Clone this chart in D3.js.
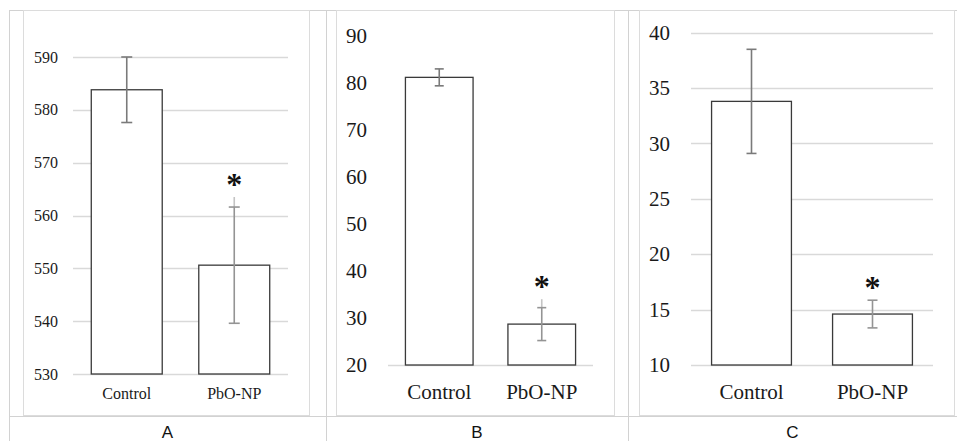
<!DOCTYPE html>
<html>
<head>
<meta charset="utf-8">
<script src="https://cdn.jsdelivr.net/npm/d3@7"></script>
<style>
  html, body { margin: 0; padding: 0; background: #fff; }
  svg { display: block; }
  .serif text, text.serif { font-family: "Liberation Serif", "Times New Roman", serif; }
</style>
</head>
<body>
<svg id="chart" width="957" height="441"></svg>
<script>
// values
var panelNames = ["A", "B", "C"];
var categories = ["Control", "PbO-NP"];

var meansA = [583.8, 550.6],
    errorsA = [6.2, 11.0],
    ticksA = [530, 540, 550, 560, 570, 580, 590];

var meansB = [81.2, 28.7],
    errorsB = [1.8, 3.5],
    ticksB = [20, 30, 40, 50, 60, 70, 80, 90];

var meansC = [33.8, 14.6],
    errorsC = [4.7, 1.25],
    ticksC = [10, 15, 20, 25, 30, 35, 40];

// faint whisker drawn above the cap (overlapping bar in the original)
var whiskerTopA = [null, 563.5],
    whiskerTopB = [null, 34.0],
    whiskerTopC = [null, null];

var significant = [false, true];

var svg = d3.select("#chart");

// table grid behind the three panels
var table = svg.append("g").attr("stroke", "#d2d2d2").attr("stroke-width", 1);
table.append("line").attr("x1", 9).attr("x2", 957).attr("y1", 10.5).attr("y2", 10.5);
table.append("line").attr("x1", 9).attr("x2", 957).attr("y1", 416.5).attr("y2", 416.5);
[9.5, 326.5, 628.5].forEach(function(x) {
    table.append("line").attr("x1", x).attr("x2", x).attr("y1", 10).attr("y2", 441);
});

var panels = [
    {name: "A", means: meansA, errors: errorsA, ticks: ticksA, whisker: whiskerTopA,
     frame: [23, 10, 309, 415], xr: [73, 288], yr: [374, 57], font: 16, grid: true, gap: 15, cap: 11, cell: [9, 326]},
    {name: "B", means: meansB, errors: errorsB, ticks: ticksB, whisker: whiskerTopB,
     frame: [336, 10, 614, 415], xr: [388, 593], yr: [365, 36], font: 21, grid: false, gap: 21, cap: 9, cell: [326, 628]},
    {name: "C", means: meansC, errors: errorsC, ticks: ticksC, whisker: whiskerTopC,
     frame: [639, 10, 954, 415], xr: [691, 933], yr: [365, 32.7], font: 21, grid: true, gap: 21, cap: 10, cell: [628, 957]}
];

panels.forEach(function(p, pi) {
    var g = svg.append("g");

    g.append("rect")
        .attr("x", p.frame[0] + 0.5)
        .attr("y", p.frame[1] + 0.5)
        .attr("width", p.frame[2] - p.frame[0])
        .attr("height", p.frame[3] - p.frame[1])
        .attr("fill", "#fff")
        .attr("stroke", "#dcdcdc");

    var y = d3.scaleLinear()
        .domain([p.ticks[0], p.ticks[p.ticks.length - 1]])
        .range(p.yr);

    var x = d3.scaleBand()
        .domain(categories)
        .range(p.xr)
        .paddingInner(0.34)
        .paddingOuter(0.17);

    // gridlines
    var gridTicks = p.grid ? p.ticks : [p.ticks[0]];
    g.selectAll(".grid")
        .data(gridTicks)
        .enter()
        .append("line")
        .attr("x1", p.xr[0])
        .attr("x2", p.xr[1])
        .attr("y1", function(d) { return Math.round(y(d)) + 0.5; })
        .attr("y2", function(d) { return Math.round(y(d)) + 0.5; })
        .attr("stroke", "#d9d9d9")
        .attr("stroke-width", 1.3);

    // y axis labels
    var yAxis = g.append("g")
        .attr("class", "serif")
        .attr("transform", "translate(" + p.xr[0] + ",0)")
        .call(d3.axisLeft(y).tickValues(p.ticks).tickSize(0).tickPadding(p.gap).tickFormat(d3.format("d")))
        .attr("font-family", null);
    yAxis.select(".domain").remove();
    yAxis.selectAll("text")
        .style("font-family", "'Liberation Serif', 'Times New Roman', serif")
        .style("font-size", p.font + "px")
        .attr("fill", "#1a1a1a");

    // bars
    g.selectAll(".bar")
        .data(p.means)
        .enter()
        .append("rect")
        .attr("x", function(d, i) { return x(categories[i]); })
        .attr("y", function(d) { return y(d); })
        .attr("width", x.bandwidth())
        .attr("height", function(d) { return y(p.ticks[0]) - y(d); })
        .attr("fill", "#fff")
        .attr("stroke", "#3a3a3a")
        .attr("stroke-width", 1.3);

    // faint whisker extension
    p.whisker.forEach(function(w, i) {
        if (w == null) return;
        var cx = x(categories[i]) + x.bandwidth() / 2;
        g.append("line")
            .attr("x1", cx).attr("x2", cx)
            .attr("y1", y(w)).attr("y2", y(p.means[i] + p.errors[i]))
            .attr("stroke", "#c4c4c4")
            .attr("stroke-width", 1.6);
    });

    // error bars
    p.means.forEach(function(m, i) {
        var cx = x(categories[i]) + x.bandwidth() / 2,
            lo = y(m - p.errors[i]),
            hi = y(m + p.errors[i]),
            eb = g.append("g").attr("stroke", i == 0 ? "#7a7a7a" : "#949494").attr("stroke-width", 1.6);
        eb.append("line").attr("x1", cx).attr("x2", cx).attr("y1", lo).attr("y2", hi);
        eb.append("line").attr("x1", cx - p.cap / 2).attr("x2", cx + p.cap / 2).attr("y1", lo).attr("y2", lo);
        eb.append("line").attr("x1", cx - p.cap / 2).attr("x2", cx + p.cap / 2).attr("y1", hi).attr("y2", hi);
    });

    // significance stars
    significant.forEach(function(s, i) {
        if (!s) return;
        var top = p.whisker[i] != null ? p.whisker[i] : p.means[i] + p.errors[i];
        g.append("text")
            .attr("class", "serif")
            .attr("x", x(categories[i]) + x.bandwidth() / 2)
            .attr("y", y(top) - 16 + 14)
            .attr("text-anchor", "middle")
            .style("font-size", "32px")
            .style("font-weight", "bold")
            .attr("fill", "#111")
            .text("*");
    });

    // category labels
    var xAxis = g.append("g")
        .attr("class", "serif")
        .attr("transform", "translate(0," + y(p.ticks[0]) + ")")
        .call(d3.axisBottom(x).tickSize(0))
        .attr("font-family", null);
    xAxis.select(".domain").remove();
    xAxis.selectAll("text")
        .attr("y", 399 - y(p.ticks[0]))
        .attr("dy", 0)
        .style("font-family", "'Liberation Serif', 'Times New Roman', serif")
        .style("font-size", p.font + "px")
        .attr("fill", "#1a1a1a");

    // panel letter
    svg.append("text")
        .attr("x", (p.cell[0] + p.cell[1]) / 2)
        .attr("y", 438)
        .attr("text-anchor", "middle")
        .style("font-family", "'Liberation Sans', Arial, sans-serif")
        .style("font-size", "17px")
        .attr("fill", "#111")
        .text(panelNames[pi]);
});
</script>
</body>
</html>
